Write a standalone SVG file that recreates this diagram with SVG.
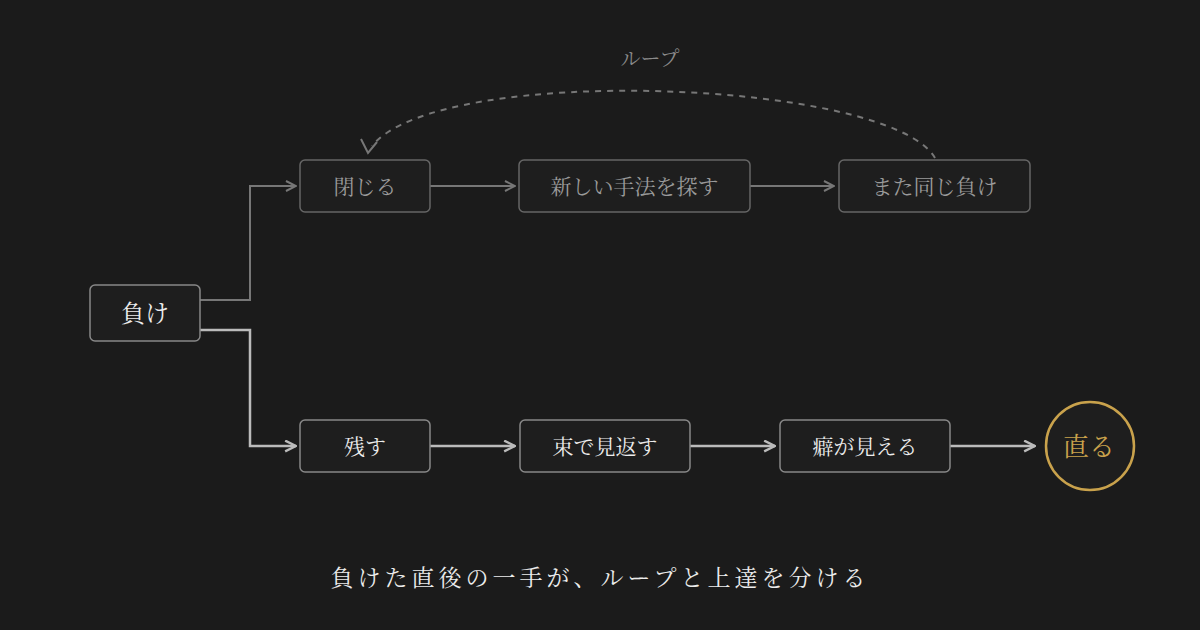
<svg xmlns="http://www.w3.org/2000/svg" width="1200" height="630" viewBox="0 0 1200 630">
<defs>
<style>
text{font-family:"Noto Serif CJK JP","Noto Sans CJK JP",serif;text-anchor:middle;dominant-baseline:central}
.box{fill:#1e1e1e;stroke:#666;stroke-width:1.5}
.boxb{fill:#1e1e1e;stroke:#888;stroke-width:1.5}
.t1{fill:#9a9a9a;font-size:21px}
.t2{fill:#ececec;font-size:21px}
.c1{fill:none;stroke:#777;stroke-width:2}
.c2{fill:none;stroke:#bbb;stroke-width:2.5}
</style>
<marker id="a1" viewBox="0 0 12 12" refX="11" refY="6" markerWidth="12" markerHeight="12" markerUnits="userSpaceOnUse" orient="auto"><path d="M1,1 L11,6 L1,11" fill="none" stroke="#777" stroke-width="2"/></marker>
<marker id="a2" viewBox="0 0 12 12" refX="11" refY="6" markerWidth="13" markerHeight="13" markerUnits="userSpaceOnUse" orient="auto"><path d="M1,1 L11,6 L1,11" fill="none" stroke="#bbb" stroke-width="2.2"/></marker>
</defs>
<rect width="1200" height="630" fill="#1b1b1b"/>
<g id="connectors">
<path class="c1" d="M200,300 H250 V186 H296" marker-end="url(#a1)"/>
<path class="c1" d="M430,186 H515" marker-end="url(#a1)"/>
<path class="c1" d="M750,186 H834" marker-end="url(#a1)"/>
<path class="c2" d="M200,330 H250 V446 H296" marker-end="url(#a2)"/>
<path class="c2" d="M430,446 H515" marker-end="url(#a2)"/>
<path class="c2" d="M690,446 H775" marker-end="url(#a2)"/>
<path class="c2" d="M950,446 H1035" marker-end="url(#a2)"/>
<path d="M935,158 C890,80 440,62 372,146" fill="none" stroke="#777" stroke-width="2" stroke-dasharray="6 6"/>
<path d="M361,139 L368,153 L377,142" fill="none" stroke="#777" stroke-width="2" stroke-linejoin="miter"/>
<text x="650" y="57" fill="#8a8a8a" font-size="20">ループ</text>
</g>
<g id="n-make"><rect class="boxb" x="90" y="285" width="110" height="56" rx="5"/><text class="t2" x="145" y="311.5" style="font-size:24px">負け</text></g>
<g id="n-close"><rect class="box" x="300" y="160" width="130" height="52" rx="5"/><text class="t1" x="365" y="184.5">閉じる</text></g>
<g id="n-new"><rect class="box" x="519" y="160" width="231" height="52" rx="5"/><text class="t1" x="634.5" y="184.5">新しい手法を探す</text></g>
<g id="n-again"><rect class="box" x="839" y="160" width="191" height="52" rx="5"/><text class="t1" x="934.5" y="184.5">また同じ負け</text></g>
<g id="n-keep"><rect class="boxb" x="300" y="420" width="130" height="52" rx="5"/><text class="t2" x="365" y="444.5">残す</text></g>
<g id="n-review"><rect class="boxb" x="520" y="420" width="170" height="52" rx="5"/><text class="t2" x="605" y="444.5">束で見返す</text></g>
<g id="n-habit"><rect class="boxb" x="780" y="420" width="170" height="52" rx="5"/><text class="t2" x="865" y="444.5">癖が見える</text></g>
<g id="n-fix"><circle cx="1090" cy="446" r="44" fill="#1e1e1e" stroke="#c9a24c" stroke-width="2.5"/><text x="1089" y="444" fill="#c9a24c" font-size="26">直る</text></g>
<text x="600" y="576.5" fill="#ececec" font-size="23" letter-spacing="4">負けた直後の一手が、ループと上達を分ける</text>
</svg>
